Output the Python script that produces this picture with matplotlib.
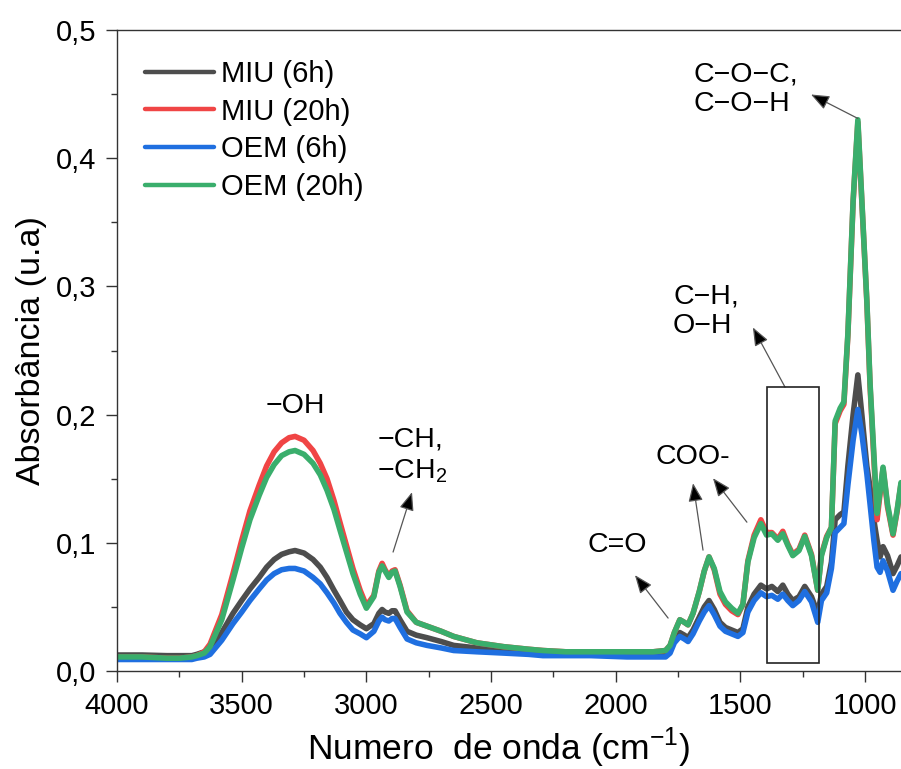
import numpy as np
import matplotlib
matplotlib.use("Agg")
import matplotlib.pyplot as plt
from matplotlib.patches import Rectangle
from matplotlib.ticker import MultipleLocator, FuncFormatter

plt.rcParams['font.family'] = ['Liberation Sans', 'DejaVu Sans']
plt.rcParams['mathtext.fontset'] = 'custom'
plt.rcParams['mathtext.rm'] = 'Liberation Sans'

# wavenumber (cm-1)
wn = [4000, 3900, 3800, 3750, 3700, 3680, 3650, 3627, 3580, 3535, 3500, 3467, 3430, 3400,
      3370, 3340, 3310, 3286, 3250, 3214, 3185, 3158, 3130, 3106, 3080, 3054, 3025, 3000,
      2970, 2950, 2937, 2925, 2910, 2897, 2885, 2865, 2837, 2800, 2757, 2700, 2650, 2557,
      2450, 2350, 2292, 2200, 2100, 1955, 1850, 1800, 1782, 1765, 1743, 1725, 1710, 1690,
      1665, 1645, 1626, 1605, 1582, 1560, 1535, 1510, 1490, 1470, 1445, 1418, 1395, 1374,
      1350, 1330, 1310, 1290, 1265, 1242, 1215, 1190, 1175, 1154, 1135, 1120, 1100, 1085,
      1069, 1048, 1029, 1013, 993, 980, 965, 952, 940, 928, 910, 888, 872, 856]

miu_6h = [0.0125, 0.0125, 0.012, 0.012, 0.012, 0.013, 0.015, 0.018, 0.030, 0.045, 0.055, 0.064, 0.073, 0.081,
          0.087, 0.091, 0.093, 0.094, 0.092, 0.087, 0.081, 0.073, 0.063, 0.055, 0.046, 0.040, 0.036, 0.033,
          0.037, 0.045, 0.048, 0.046, 0.045, 0.047, 0.047, 0.040, 0.031, 0.028, 0.026, 0.023, 0.020, 0.018,
          0.016, 0.015, 0.014, 0.014, 0.013, 0.013, 0.013, 0.014, 0.017, 0.025, 0.030, 0.028, 0.026, 0.032,
          0.042, 0.050, 0.055, 0.048, 0.038, 0.034, 0.032, 0.030, 0.033, 0.050, 0.060, 0.067, 0.064, 0.066,
          0.062, 0.067, 0.060, 0.055, 0.058, 0.066, 0.058, 0.045, 0.060, 0.066, 0.085, 0.118, 0.122, 0.124,
          0.160, 0.200, 0.231, 0.200, 0.160, 0.143, 0.118, 0.102, 0.089, 0.097, 0.090, 0.076, 0.082, 0.089]

miu_20h = [0.011, 0.011, 0.010, 0.010, 0.011, 0.012, 0.015, 0.021, 0.044, 0.076, 0.102, 0.125, 0.145, 0.160,
           0.171, 0.178, 0.182, 0.183, 0.180, 0.172, 0.162, 0.150, 0.133, 0.116, 0.098, 0.080, 0.063, 0.051,
           0.059, 0.078, 0.084, 0.079, 0.074, 0.078, 0.079, 0.067, 0.047, 0.038, 0.035, 0.031, 0.027, 0.022,
           0.019, 0.017, 0.016, 0.015, 0.015, 0.015, 0.015, 0.016, 0.020, 0.030, 0.040, 0.038, 0.036, 0.045,
           0.062, 0.078, 0.089, 0.079, 0.060, 0.052, 0.047, 0.044, 0.052, 0.086, 0.106, 0.118, 0.108, 0.108,
           0.103, 0.109, 0.099, 0.091, 0.095, 0.106, 0.091, 0.063, 0.091, 0.105, 0.112, 0.193, 0.203, 0.208,
           0.262, 0.366, 0.428, 0.366, 0.288, 0.222, 0.166, 0.118, 0.138, 0.158, 0.128, 0.106, 0.124, 0.146]

oem_6h = [0.009, 0.009, 0.009, 0.009, 0.009, 0.010, 0.011, 0.013, 0.024, 0.037, 0.046, 0.055, 0.064, 0.071,
          0.076, 0.079, 0.080, 0.080, 0.078, 0.073, 0.068, 0.061, 0.053, 0.045, 0.038, 0.032, 0.029, 0.026,
          0.031, 0.039, 0.042, 0.040, 0.039, 0.041, 0.041, 0.034, 0.025, 0.022, 0.020, 0.018, 0.016, 0.015,
          0.014, 0.013, 0.012, 0.012, 0.012, 0.011, 0.011, 0.011, 0.014, 0.022, 0.027, 0.025, 0.023, 0.029,
          0.039, 0.046, 0.051, 0.044, 0.035, 0.031, 0.029, 0.027, 0.030, 0.046, 0.055, 0.061, 0.058, 0.059,
          0.056, 0.060, 0.055, 0.051, 0.055, 0.062, 0.054, 0.038, 0.055, 0.061, 0.080, 0.108, 0.112, 0.115,
          0.145, 0.180, 0.204, 0.185, 0.154, 0.130, 0.102, 0.081, 0.077, 0.086, 0.078, 0.063, 0.070, 0.076]

oem_20h = [0.011, 0.011, 0.010, 0.010, 0.011, 0.012, 0.014, 0.019, 0.040, 0.071, 0.096, 0.118, 0.137, 0.151,
           0.161, 0.168, 0.171, 0.172, 0.169, 0.162, 0.153, 0.141, 0.126, 0.110, 0.093, 0.076, 0.060, 0.049,
           0.058, 0.077, 0.082, 0.078, 0.073, 0.077, 0.078, 0.066, 0.046, 0.038, 0.035, 0.031, 0.027, 0.022,
           0.019, 0.017, 0.016, 0.015, 0.015, 0.015, 0.015, 0.016, 0.020, 0.030, 0.040, 0.038, 0.036, 0.045,
           0.062, 0.078, 0.089, 0.080, 0.062, 0.054, 0.049, 0.045, 0.052, 0.085, 0.104, 0.115, 0.106, 0.107,
           0.102, 0.107, 0.098, 0.090, 0.094, 0.105, 0.090, 0.063, 0.090, 0.104, 0.112, 0.195, 0.205, 0.210,
           0.263, 0.367, 0.430, 0.367, 0.289, 0.224, 0.170, 0.123, 0.140, 0.159, 0.130, 0.107, 0.125, 0.147]

labels = ['MIU (6h)', 'MIU (20h)', 'OEM (6h)', 'OEM (20h)']
colors = ['#4d4d4d', '#f04545', '#1f6fe0', '#3aae6c']

fig = plt.figure(figsize=(9.01, 7.69), dpi=100)
ax = fig.add_axes([0.1299, 0.1274, 0.8701, 0.8336])

for ys, lab, c in zip([miu_6h, miu_20h, oem_6h, oem_20h], labels, colors):
    ax.plot(wn, ys, color=c, lw=4, label=lab, solid_joinstyle='round', solid_capstyle='round')

ax.set_xlim(4000, 856)
ax.set_ylim(0, 0.5)
ax.xaxis.set_major_locator(MultipleLocator(500))
ax.xaxis.set_minor_locator(MultipleLocator(250))
ax.yaxis.set_major_locator(MultipleLocator(0.1))
ax.yaxis.set_minor_locator(MultipleLocator(0.05))
ax.yaxis.set_major_formatter(FuncFormatter(lambda v, p: f'{v:.1f}'.replace('.', ',')))
ax.tick_params(which='major', direction='out', length=8, width=1, labelsize=21, pad=7, color='#333333')
ax.tick_params(which='minor', direction='out', length=4.5, width=1, color='#333333')
ax.spines['right'].set_visible(False)
for s in ['left', 'bottom', 'top']:
    ax.spines[s].set_color('#333333')
    ax.spines[s].set_linewidth(1)

ax.set_xlabel('Numero  de onda (cm$^{\\mathregular{-1}}$)', fontsize=25.5, labelpad=3)
ax.xaxis.set_label_coords(0.487, -0.085)
ax.set_ylabel('Absorbância (u.a)', fontsize=24.5, labelpad=6)

leg = ax.legend(loc='upper left', frameon=False, fontsize=21, handlelength=2.35,
                handletextpad=0.25, labelspacing=0.33, borderaxespad=0.3, bbox_to_anchor=(0.01, 0.985))
for ln in leg.get_lines():
    ln.set_linewidth(3.2)

# box around C-H / O-H region
ax.add_patch(Rectangle((1185, 0.0062), 1393.5 - 1185, 0.2214 - 0.0062,
                       fill=False, edgecolor='#222222', lw=1.2, zorder=5))

afs = 20.5
ax.text(3286, 0.2065, '−OH', fontsize=afs, ha='center', va='center')
ax.text(2957, 0.168, '−CH,\n−CH$_\\mathregular{2}$', fontsize=afs, ha='left', va='center', linespacing=1.2)
ax.text(1995, 0.098, 'C=O', fontsize=afs, ha='center', va='center')
ax.text(1690, 0.1668, 'COO-', fontsize=afs, ha='center', va='center')
ax.text(1770, 0.2806, 'C−H,\nO−H', fontsize=afs, ha='left', va='center', linespacing=1.2)
ax.text(1690, 0.4536, 'C−O−C,\nC−O−H', fontsize=afs, ha='left', va='center', linespacing=1.2)

arrows = [((2893, 0.0928), (2817, 0.1395)),
          ((1790, 0.0413), (1923, 0.0748)),
          ((1650, 0.0943), (1690, 0.1465)),
          ((1474, 0.1161), (1610, 0.1504)),
          ((1321, 0.2214), (1450, 0.268)),
          ((1029, 0.431), (1217, 0.4497))]
for tail, head in arrows:
    ax.annotate('', xy=head, xytext=tail,
                arrowprops=dict(arrowstyle='-|>,head_length=0.7,head_width=0.28', color='#555555',
                                lw=0.9, mutation_scale=16, shrinkA=0, shrinkB=0,
                                fc='black', ec='#555555'))

fig.savefig('out.png', dpi=100)
